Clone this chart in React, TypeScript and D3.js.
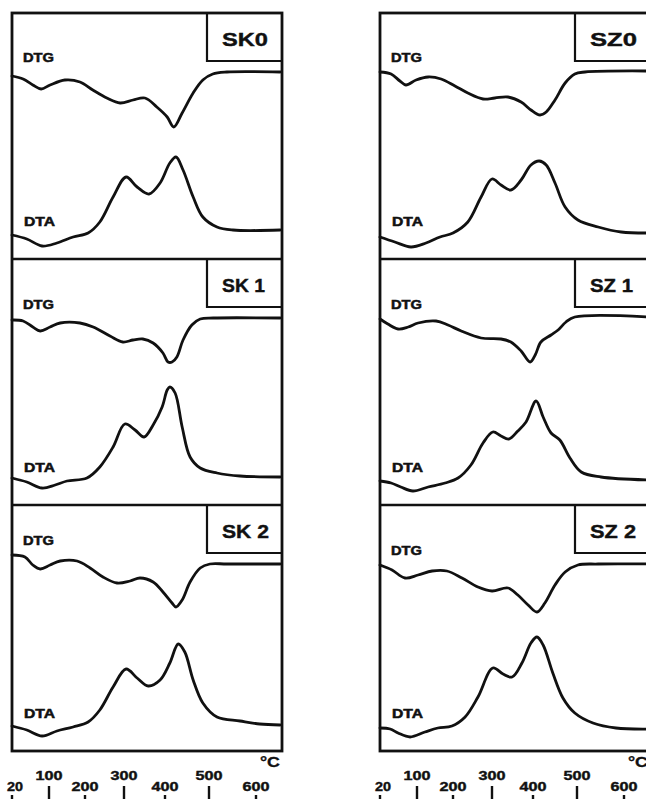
import React from "react";
import * as d3 from "d3";

const W = 646;
const H = 799;

// Temperature axis: the recorder's time base makes the °C scale uneven,
// so the scale is piecewise linear between these calibration points.
const TEMP_TICKS = [20, 100, 200, 300, 400, 500, 600];
const TEMP_BREAKS = [20, 100, 200, 300, 400, 500, 600, 655];
const TEMP_BREAK_FRACTIONS = [0, 37, 73, 112, 153, 197, 244, 270].map((v) => v / 270);

// Sample names: SK series (left column), SZ series (right column)
const SK_NAMES = ["SK0", "SK 1", "SK 2"];
const SZ_NAMES = ["SZ0", "SZ 1", "SZ 2"];

// Curves: [temperature °C, signal (arbitrary units, 0–246 per panel)]
const SK0_DTG: [number, number][] = [
  [20, 183], [44, 180], [65, 174], [83, 170], [103, 174], [144, 179], [186, 177],
  [220, 169], [256, 161], [290, 156], [322, 159], [351, 161], [380, 152], [405, 142],
  [420, 132], [439, 146], [464, 166], [486, 179], [508, 185], [538, 187], [651, 187],
];
const SK0_DTA: [number, number][] = [
  [20, 24], [52, 20], [85, 13], [122, 16], [167, 22], [208, 26], [238, 37], [272, 62],
  [305, 82], [332, 72], [361, 65], [388, 76], [411, 96], [425, 102], [441, 89],
  [464, 62], [486, 42], [517, 32], [551, 29], [651, 29],
];
const SK1_DTG: [number, number][] = [
  [20, 185], [44, 184], [65, 178], [81, 174], [103, 178], [131, 182], [186, 182],
  [221, 178], [264, 169], [297, 163], [322, 165], [346, 166], [371, 162], [395, 152],
  [407, 143], [416, 143], [427, 148], [441, 165], [461, 180], [480, 186], [509, 187],
  [651, 187],
];
const SK1_DTA: [number, number][] = [
  [20, 27], [52, 23], [85, 17], [117, 20], [150, 24], [205, 27], [238, 38], [272, 58],
  [302, 81], [327, 75], [349, 68], [371, 80], [393, 98], [405, 115], [411, 118],
  [423, 112], [439, 78], [457, 48], [480, 37], [517, 32], [566, 29], [651, 28],
];
const SK2_DTG: [number, number][] = [
  [20, 196], [48, 194], [65, 186], [81, 182], [103, 186], [131, 190], [178, 190],
  [213, 183], [246, 174], [282, 168], [315, 170], [339, 173], [371, 169], [395, 159],
  [416, 148], [425, 144], [439, 151], [457, 169], [480, 183], [502, 187], [538, 187],
  [651, 187],
];
const SK2_DTA: [number, number][] = [
  [20, 25], [52, 21], [85, 15], [122, 20], [167, 24], [208, 29], [238, 41], [272, 64],
  [305, 82], [332, 73], [359, 65], [388, 71], [411, 88], [430, 107], [445, 99],
  [464, 71], [486, 48], [517, 34], [566, 30], [608, 27], [651, 26],
];
const SZ0_DTG: [number, number][] = [
  [20, 187], [44, 185], [63, 178], [76, 174], [98, 179], [131, 182], [167, 180],
  [205, 173], [238, 166], [277, 160], [307, 161], [339, 162], [371, 157], [395, 149],
  [416, 144], [430, 147], [450, 159], [473, 176], [495, 185], [517, 187], [655, 188],
];
const SZ0_DTA: [number, number][] = [
  [20, 22], [52, 17], [87, 12], [125, 16], [164, 22], [200, 26], [238, 37], [272, 62],
  [300, 80], [322, 74], [346, 69], [371, 79], [395, 94], [414, 98], [430, 94],
  [450, 76], [473, 52], [502, 39], [545, 32], [594, 27], [655, 26],
];
const SZ1_DTG: [number, number][] = [
  [20, 186], [37, 181], [59, 176], [81, 178], [103, 182], [153, 184], [186, 180],
  [221, 174], [272, 167], [322, 166], [346, 163], [371, 154], [393, 143], [405, 150],
  [418, 163], [441, 170], [457, 175], [475, 183], [495, 188], [655, 188],
];
const SZ1_DTA: [number, number][] = [
  [20, 24], [44, 22], [65, 18], [91, 14], [131, 18], [178, 22], [213, 27], [246, 40],
  [277, 62], [302, 73], [322, 69], [341, 66], [363, 74], [383, 83], [407, 104],
  [423, 88], [441, 72], [461, 65], [484, 47], [509, 33], [551, 28], [655, 25],
];
const SZ2_DTG: [number, number][] = [
  [20, 186], [46, 181], [74, 173], [103, 176], [142, 180], [183, 180], [223, 173],
  [264, 164], [300, 160], [339, 163], [363, 156], [388, 146], [409, 139], [427, 148],
  [450, 166], [473, 179], [502, 186], [545, 187], [655, 187],
];
const SZ2_DTA: [number, number][] = [
  [20, 23], [42, 22], [59, 18], [85, 14], [122, 19], [158, 23], [197, 25], [231, 34],
  [264, 54], [302, 83], [327, 77], [349, 74], [373, 88], [395, 108], [409, 114],
  [423, 106], [445, 78], [468, 53], [495, 38], [534, 28], [583, 23], [655, 22],
];

const SK_DTG = [SK0_DTG, SK1_DTG, SK2_DTG];
const SK_DTA = [SK0_DTA, SK1_DTA, SK2_DTA];
const SZ_DTG = [SZ0_DTG, SZ1_DTG, SZ2_DTG];
const SZ_DTA = [SZ0_DTA, SZ1_DTA, SZ2_DTA];

// Layout
const COL_LEFT = [12, 380];
const COL_W = 270;
const ROW_TOP = [13, 259, 505];
const ROW_H = 246;
const BOX_INSET = 195;
const BOX_H = 48;
const DTG_LABEL_DY = [[49, 50, 40], [49, 50, 50]];
const NAME_WIDTH = [[46, 43, 47], [47, 43, 46]];

const FONT = "'Liberation Sans', Arial, Helvetica, sans-serif";
const INK = "#111";

function Panel({
  left, top, name, nameWidth, dtg, dta, dtgDy,
}: {
  left: number; top: number; name: string; nameWidth: number;
  dtg: [number, number][]; dta: [number, number][]; dtgDy: number;
}) {
  const x = d3.scaleLinear()
    .domain(TEMP_BREAKS)
    .range(TEMP_BREAK_FRACTIONS.map((f) => left + f * COL_W));
  const y = d3.scaleLinear().domain([0, ROW_H]).range([top + ROW_H, top]);
  const line = d3.line<[number, number]>()
    .x((d) => x(d[0]))
    .y((d) => y(d[1]))
    .curve(d3.curveCatmullRom.alpha(0.5));
  const boxLeft = left + BOX_INSET;
  const labelProps = {
    fontFamily: FONT, fontWeight: "bold" as const, fill: INK,
    stroke: INK, strokeWidth: 0.5, lengthAdjust: "spacingAndGlyphs",
  };
  return (
    <g>
      <path
        d={`M${boxLeft},${top}V${top + BOX_H}H${left + COL_W}`}
        fill="none" stroke={INK} strokeWidth={2.2}
      />
      <text x={boxLeft + 15} y={top + 33} fontSize={18.5} textLength={nameWidth}
        {...labelProps} strokeWidth={0.4}>{name}</text>
      <text x={left + 11} y={top + dtgDy} fontSize={12} textLength={31} {...labelProps}>DTG</text>
      <text x={left + 12} y={top + ROW_H - 33} fontSize={12} textLength={31} {...labelProps}>DTA</text>
      <path d={line(dtg) ?? ""} fill="none" stroke={INK} strokeWidth={2.8}
        strokeLinejoin="round" strokeLinecap="round" />
      <path d={line(dta) ?? ""} fill="none" stroke={INK} strokeWidth={2.8}
        strokeLinejoin="round" strokeLinecap="round" />
    </g>
  );
}

function Column({
  left, names, dtgs, dtas, dtgDy, nameWidths,
}: {
  left: number; names: string[]; dtgs: [number, number][][]; dtas: [number, number][][];
  dtgDy: number[]; nameWidths: number[];
}) {
  const x = d3.scaleLinear()
    .domain(TEMP_BREAKS)
    .range(TEMP_BREAK_FRACTIONS.map((f) => left + f * COL_W));
  const bottom = ROW_TOP[ROW_TOP.length - 1] + ROW_H;
  return (
    <g>
      {names.map((n, i) => (
        <Panel key={n} left={left} top={ROW_TOP[i]} name={n} nameWidth={nameWidths[i]}
          dtg={dtgs[i]} dta={dtas[i]} dtgDy={dtgDy[i]} />
      ))}
      <rect x={left} y={ROW_TOP[0]} width={COL_W} height={bottom - ROW_TOP[0]}
        fill="none" stroke={INK} strokeWidth={2.8} />
      {ROW_TOP.slice(1).map((t) => (
        <line key={t} x1={left} x2={left + COL_W} y1={t} y2={t} stroke={INK} strokeWidth={2.6} />
      ))}
      <text x={left + 248} y={767} fontFamily={FONT} fontWeight="bold" fontSize={14}
        fill={INK} stroke={INK} strokeWidth={0.3}
        textLength={20} lengthAdjust="spacingAndGlyphs">°C</text>
      {TEMP_TICKS.map((t, i) => {
        const raised = i % 2 === 1;
        const tx = x(t);
        const label = String(t);
        return (
          <g key={t}>
            <text x={tx + (i === 0 ? 3 : 0)} y={raised ? 780 : 791} textAnchor="middle" fontFamily={FONT}
              fontWeight="bold" fontSize={12} fill={INK} stroke={INK} strokeWidth={0.4}
              textLength={label.length === 2 ? 16 : 27} lengthAdjust="spacingAndGlyphs">{label}</text>
            <line x1={tx} x2={tx} y1={raised ? 786 : 795} y2={H} stroke={INK} strokeWidth={2.4} />
          </g>
        );
      })}
    </g>
  );
}

export default function App() {
  return (
    <svg width={W} height={H} viewBox={`0 0 ${W} ${H}`}
      style={{ position: "absolute", left: 0, top: 0, background: "#fff" }}>
      <rect width={W} height={H} fill="#fff" />
      <Column left={COL_LEFT[0]} names={SK_NAMES} dtgs={SK_DTG} dtas={SK_DTA}
        dtgDy={DTG_LABEL_DY[0]} nameWidths={NAME_WIDTH[0]} />
      <Column left={COL_LEFT[1]} names={SZ_NAMES} dtgs={SZ_DTG} dtas={SZ_DTA}
        dtgDy={DTG_LABEL_DY[1]} nameWidths={NAME_WIDTH[1]} />
    </svg>
  );
}
